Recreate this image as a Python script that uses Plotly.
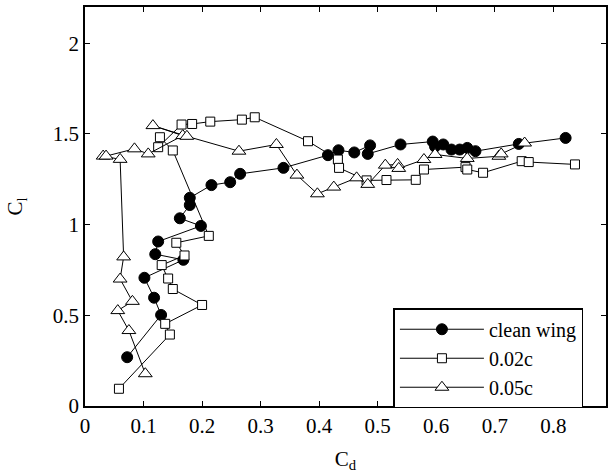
import plotly.graph_objects as go

# clean wing (filled circles)
clean_cd = [0.072, 0.130, 0.118, 0.1015, 0.168, 0.120, 0.125, 0.198, 0.162, 0.179, 0.179,
            0.216, 0.248, 0.265, 0.339, 0.415, 0.433, 0.460, 0.487, 0.483, 0.539, 0.594,
            0.598, 0.612, 0.626, 0.640, 0.653, 0.667, 0.741, 0.821]
clean_cl = [0.269, 0.502, 0.597, 0.707, 0.806, 0.837, 0.907, 0.993, 1.035, 1.108, 1.148,
            1.218, 1.234, 1.280, 1.313, 1.383, 1.410, 1.398, 1.437, 1.390, 1.442, 1.458,
            1.430, 1.442, 1.414, 1.414, 1.423, 1.405, 1.445, 1.478]

# 0.02c (open squares)
sq_cd = [0.058, 0.145, 0.137, 0.200, 0.150, 0.142, 0.131, 0.170, 0.156, 0.2115, 0.150,
         0.128, 0.125, 0.165, 0.183, 0.214, 0.268, 0.290, 0.381, 0.432, 0.434, 0.481,
         0.515, 0.565, 0.579, 0.650, 0.653, 0.680, 0.746, 0.758, 0.837]
sq_cl = [0.095, 0.394, 0.453, 0.557, 0.645, 0.703, 0.777, 0.830, 0.900, 0.938, 1.409,
         1.482, 1.427, 1.552, 1.555, 1.568, 1.579, 1.592, 1.460, 1.359, 1.313, 1.244,
         1.246, 1.247, 1.304, 1.317, 1.304, 1.286, 1.350, 1.345, 1.332]

# 0.05c (open triangles)
tri_cd = [0.103, 0.075, 0.056, 0.081, 0.060, 0.066, 0.060, 0.031, 0.036, 0.0845, 0.108,
          0.167, 0.116, 0.174, 0.263, 0.327, 0.362, 0.397, 0.425, 0.464, 0.483, 0.513,
          0.534, 0.536, 0.579, 0.598, 0.653, 0.707, 0.711, 0.751]
tri_cl = [0.178, 0.416, 0.526, 0.577, 0.700, 0.822, 1.360, 1.378, 1.378, 1.418, 1.390,
          1.491, 1.546, 1.487, 1.405, 1.442, 1.273, 1.170, 1.207, 1.258, 1.222, 1.328,
          1.332, 1.310, 1.359, 1.387, 1.365, 1.377, 1.390, 1.450]

series_names = ["clean wing", "0.02c", "0.05c"]

x_ticks = [0, 0.1, 0.2, 0.3, 0.4, 0.5, 0.6, 0.7, 0.8]
x_ticktext = ["0", "0.1", "0.2", "0.3", "0.4", "0.5", "0.6", "0.7", "0.8"]
y_ticks = [0, 0.5, 1, 1.5, 2]
y_ticktext = ["0", "0.5", "1", "1.5", "2"]

FONT = "Liberation Serif"
FS = 21
LEG_FS = 20

fig = go.Figure()
fig.add_trace(go.Scatter(
    x=clean_cd, y=clean_cl, mode="lines+markers", name=series_names[0],
    line=dict(color="black", width=1),
    marker=dict(symbol="circle", size=11, color="black", line=dict(color="black", width=1)),
))
fig.add_trace(go.Scatter(
    x=sq_cd, y=sq_cl, mode="lines+markers", name=series_names[1],
    line=dict(color="black", width=1),
    marker=dict(symbol="square", size=9, color="white", line=dict(color="black", width=1)),
))
fig.add_trace(go.Scatter(
    x=tri_cd, y=tri_cl, mode="lines+markers", name=series_names[2],
    line=dict(color="black", width=1),
    marker=dict(symbol="triangle-up", size=12, color="white", line=dict(color="black", width=1)),
))

axis_common = dict(
    showline=True, linecolor="black", linewidth=1.5, mirror="ticks",
    ticks="inside", ticklen=5, tickcolor="black", tickwidth=1,
    showgrid=False, zeroline=False,
    tickfont=dict(family=FONT, size=FS, color="black"),
)

fig.update_layout(
    width=613, height=476,
    margin=dict(l=85, r=5, t=5, b=70),
    paper_bgcolor="white", plot_bgcolor="white",
    font=dict(family=FONT, size=FS, color="black"),
    xaxis=dict(range=[0, 0.89], tickvals=x_ticks, ticktext=x_ticktext,
               title=dict(text="C<sub>d</sub>", font=dict(family=FONT, size=FS), standoff=14),
               **axis_common),
    yaxis=dict(range=[0, 2.2], tickvals=y_ticks, ticktext=y_ticktext,
               title=dict(text="C<sub>l</sub>", font=dict(family=FONT, size=FS), standoff=24),
               **axis_common),
    legend=dict(x=0.592, y=0.245, xanchor="left", yanchor="top",
                bgcolor="white", bordercolor="black", borderwidth=1.5,
                font=dict(family=FONT, size=LEG_FS, color="black"),
                itemwidth=84, tracegroupgap=0),
    showlegend=True,
)

fig.write_html("out.html")
